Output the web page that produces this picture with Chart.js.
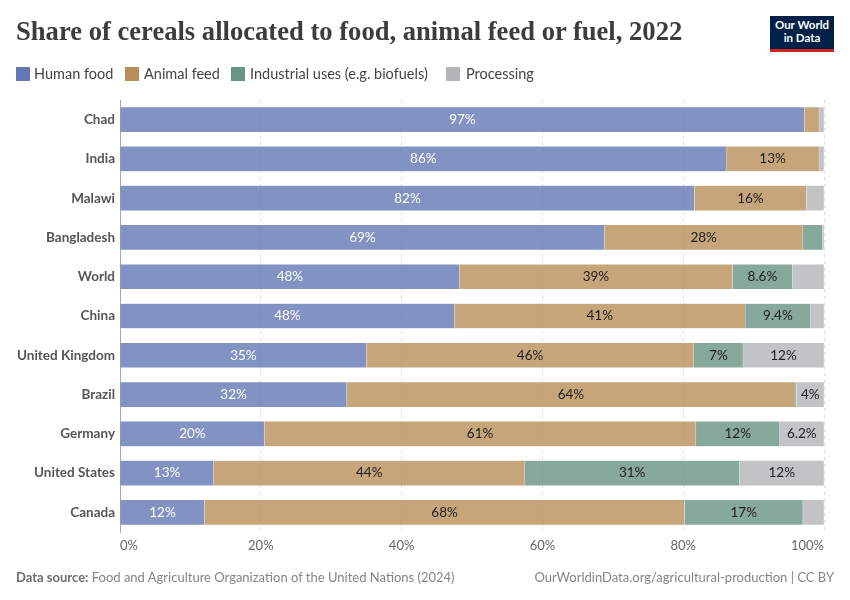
<!DOCTYPE html>
<html>
<head>
<meta charset="utf-8">
<title>Share of cereals</title>
<script src="https://cdn.jsdelivr.net/npm/chart.js@4"></script>
<style>
html, body { margin: 0; padding: 0; background: #fff; }
#wrap { position: relative; width: 850px; height: 600px; overflow: hidden; font-family: Lato, sans-serif; }
#myChart { position: absolute; left: 0; top: 0; }
.abs { position: absolute; white-space: nowrap; }
#heading { left: 16px; top: 13px; font-family: "Liberation Serif", serif; font-weight: bold; font-size: 26.6px; color: #3d3d3d; line-height: 36px; }
#logo { left: 770px; top: 16px; width: 64px; height: 31px; padding-top: 2px; background: #002147; border-bottom: 3px solid #ce261e; color: #fff; font-weight: bold; font-size: 11.5px; line-height: 13px; text-align: center; white-space: normal; }
.swatch { position: absolute; top: 67px; width: 14px; height: 14px; }
.leg { top: 65px; font-size: 14.5px; line-height: 18px; color: #444; }
.foot { top: 568px; font-size: 13px; line-height: 18px; color: #858585; }
.foot b { color: #6e6e6e; }
</style>
</head>
<body>
<div id="wrap">
  <canvas id="myChart" width="850" height="600"></canvas>
  <div class="abs" id="heading">Share of cereals allocated to food, animal feed or fuel, 2022</div>
  <div class="abs" id="logo">Our World<br>in Data</div>

  <span class="swatch" style="left:16px;background:#6277b4"></span>
  <span class="abs leg" style="left:34px">Human food</span>
  <span class="swatch" style="left:125px;background:#b98e5a"></span>
  <span class="abs leg" style="left:144px">Animal feed</span>
  <span class="swatch" style="left:231px;background:#699383"></span>
  <span class="abs leg" style="left:250px">Industrial uses (e.g. biofuels)</span>
  <span class="swatch" style="left:446px;background:#b3b4b6"></span>
  <span class="abs leg" style="left:466px">Processing</span>

  <div class="abs foot" style="left:16px"><b>Data source:</b> Food and Agriculture Organization of the United Nations (2024)</div>
  <div class="abs foot" style="right:16px">OurWorldinData.org/agricultural-production | CC BY</div>
</div>
<script>
// values, percent of cereals
var countries = ['Chad', 'India', 'Malawi', 'Bangladesh', 'World', 'China', 'United Kingdom', 'Brazil', 'Germany', 'United States', 'Canada'];
var humanFood = [97.2, 86.1, 81.6, 68.8, 48.2, 47.5, 35.0, 32.2, 20.5, 13.3, 12.0];
var animalFeed = [2.1, 13.2, 15.9, 28.2, 38.8, 41.3, 46.5, 63.7, 61.3, 44.2, 68.2];
var industrial = [0, 0, 0, 2.8, 8.5, 9.3, 7.0, 0.2, 11.9, 30.5, 16.8];
var processing = [0.7, 0.7, 2.5, 0.2, 4.5, 1.9, 11.5, 3.9, 6.3, 12.0, 3.0];

// text printed on the bars, empty where the segment is too narrow
var humanFoodLabels = ['97%', '86%', '82%', '69%', '48%', '48%', '35%', '32%', '20%', '13%', '12%'];
var animalFeedLabels = ['', '13%', '16%', '28%', '39%', '41%', '46%', '64%', '61%', '44%', '68%'];
var industrialLabels = ['', '', '', '', '8.6%', '9.4%', '7%', '', '12%', '31%', '17%'];
var processingLabels = ['', '', '', '', '', '', '12%', '4%', '6.2%', '12%', ''];

var xTicks = [0, 20, 40, 60, 80, 100];

function makeSet(name, values, labels, color, textColor) {
    return {
        label: name,
        data: values,
        barLabels: labels,
        textColor: textColor,
        backgroundColor: color,
        borderColor: 'rgba(255,255,255,0.6)',
        borderWidth: 0.5,
        barThickness: 25
    };
}

// draws the percent text in the middle of each segment
var barLabelPlugin = {
    id: 'barLabels',
    afterDatasetsDraw: function (chart) {
        var c = chart.ctx;
        c.save();
        c.font = '13.5px Lato';
        c.textAlign = 'center';
        c.textBaseline = 'middle';
        chart.data.datasets.forEach(function (ds, i) {
            chart.getDatasetMeta(i).data.forEach(function (bar, j) {
                if (!ds.barLabels[j]) return;
                c.fillStyle = ds.textColor;
                c.fillText(ds.barLabels[j], (bar.base + bar.x) / 2, bar.y);
            });
        });
        c.restore();
    }
};

var ctx = document.getElementById('myChart').getContext('2d');
var myChart = new Chart(ctx, {
    type: 'bar',
    data: {
        labels: countries,
        datasets: [
            makeSet('Human food', humanFood, humanFoodLabels, 'rgba(98,119,180,0.8)', '#ffffff'),
            makeSet('Animal feed', animalFeed, animalFeedLabels, 'rgba(185,142,90,0.8)', '#1d1d1d'),
            makeSet('Industrial uses (e.g. biofuels)', industrial, industrialLabels, 'rgba(105,147,131,0.8)', '#1d1d1d'),
            makeSet('Processing', processing, processingLabels, 'rgba(179,180,182,0.8)', '#1d1d1d')
        ]
    },
    plugins: [barLabelPlugin],
    options: {
        indexAxis: 'y',
        responsive: false,
        animation: false,
        layout: { padding: { top: 100, right: 26, bottom: 46, left: 0 } },
        plugins: { legend: { display: false }, title: { display: false }, tooltip: { enabled: false } },
        scales: {
            x: {
                stacked: true,
                min: 0,
                max: 100,
                afterBuildTicks: function (scale) {
                    scale.ticks = xTicks.map(function (v) { return { value: v }; });
                },
                afterFit: function (scale) { scale.height = 22; },
                grid: { color: '#dddddd', drawTicks: false },
                border: { display: false, dash: [3, 4] },
                ticks: {
                    align: 'inner',
                    maxRotation: 0,
                    padding: 6,
                    color: '#666666',
                    font: { family: 'Lato', size: 13 },
                    callback: function (v) { return v + '%'; }
                }
            },
            y: {
                stacked: true,
                afterFit: function (scale) { scale.width = 120; },
                grid: { display: false, drawTicks: false },
                border: { display: true, color: '#a8a8a8', width: 1 },
                ticks: {
                    padding: 5,
                    autoSkip: false,
                    color: '#555555',
                    font: { family: 'Lato', size: 13.5, weight: 'bold' }
                }
            }
        }
    }
});
</script>
</body>
</html>
